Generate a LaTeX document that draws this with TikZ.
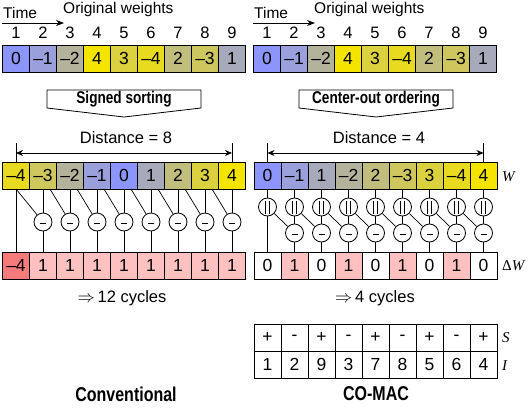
\documentclass[tikz,border=0pt]{standalone}
\usepackage{fontspec}
\setmainfont{Liberation Sans}
\newfontfamily\condfont[FakeStretch=0.8]{Liberation Sans}
\newfontfamily\seriffont{Liberation Serif}
\usetikzlibrary{arrows.meta}
\definecolor{cb}{RGB}{140,150,250}
\definecolor{cy}{RGB}{245,228,0}
\colorlet{v0}{cb}
\colorlet{vm1}{cy!12.5!cb}
\colorlet{v1}{cy!25!cb}
\colorlet{vm2}{cy!37.5!cb}
\colorlet{v2}{cy!50!cb}
\colorlet{vm3}{cy!62.5!cb}
\colorlet{v3}{cy!75!cb}
\colorlet{vm4}{cy!87.5!cb}
\colorlet{v4}{cy}
\definecolor{pk}{RGB}{255,192,192}
\definecolor{rd}{RGB}{245,122,122}
\colorlet{wh}{white}
\newcommand\numfont{\fontsize{16.5}{19}\selectfont}
\newcommand\boxfont{\fontsize{17.5}{20}\selectfont}
\newcommand\lblfont{\fontsize{15.5}{18}\selectfont}
\newcommand\bigbold{\condfont\bfseries\fontsize{20}{24}\selectfont}
\newcommand\banfont{\condfont\bfseries\fontsize{17}{20}\selectfont}
\newcommand\mathlbl{\seriffont\fontsize{15}{18}\selectfont}
\tikzset{
  cell/.style={draw, line width=0.9pt, minimum width=27pt, minimum height=27pt,
    inner sep=0pt, outer sep=0pt, font=\boxfont},
  conn/.style={line width=0.7pt},
  minusc/.style={circle, draw, line width=0.8pt, minimum size=18pt, inner sep=0pt, fill=white,
    path picture={\draw[line width=1.3pt] ([xshift=-3pt,yshift=-1.5pt]path picture bounding box.center) -- ([xshift=3pt,yshift=-1.5pt]path picture bounding box.center);}},
  eqc/.style={circle, draw, line width=0.8pt, minimum size=18pt, inner sep=0pt, fill=white,
    path picture={\draw[line width=0.8pt]
      ([xshift=-2.3pt,yshift=6pt]path picture bounding box.center) -- ([xshift=-2.3pt,yshift=-6.5pt]path picture bounding box.center)
      ([xshift=2.3pt,yshift=6pt]path picture bounding box.center) -- ([xshift=2.3pt,yshift=-6.5pt]path picture bounding box.center);}},
  banner/.style={draw, line width=0.8pt, fill=white},
  darr/.style={line width=0.8pt, {Stealth[length=7pt,width=6pt]}-{Stealth[length=7pt,width=6pt]}},
}
\begin{document}
\begin{tikzpicture}[x=1pt,y=-1pt]
\useasboundingbox (0,0) rectangle (530,410);
% ---------- headers ----------
\foreach \ox/\p in {0/l,251/r}{
  \node[anchor=base west, inner sep=0pt, font=\lblfont] (\p time) at (3+\ox,18) {Time};
  \node[anchor=base west, inner sep=0pt, font=\lblfont] (\p orig) at (63+\ox,13) {Original weights};
  \coordinate (\p ta) at (2+\ox,23);
  \coordinate (\p tb) at (64+\ox,23);
  \draw[line width=0.8pt, -{Stealth[length=8pt,width=6pt]}] (\p ta) -- (\p tb);
  \foreach \t/\c [count=\i from 0] in {0/v0,–1/vm1,–2/vm2,4/v4,3/v3,–4/vm4,2/v2,–3/vm3,1/v1}{
    \node[anchor=base, inner sep=0pt, font=\numfont] (\p n\i) at (16+27*\i+\ox,38.5) {\the\numexpr\i+1\relax};
    \node[cell, fill=\c] (\p o\i) at (16+27*\i+\ox,58.5) {\t};
  }
}
% ---------- banners ----------
\draw[banner] (47,90) -- (201,90) -- (201,108) -- (124,117) -- (47,108) -- cycle;
\node[font=\banfont, inner sep=0pt] (lban) at (124,99.5) {Signed sorting};
\draw[banner] (299,90) -- (453,90) -- (453,108) -- (376,117) -- (299,108) -- cycle;
\node[font=\banfont, inner sep=0pt] (rban) at (376,99.5) {Center-out ordering};
% ---------- left: sorted ----------
\foreach \t/\c [count=\i from 0] in {–4/vm4,–3/vm3,–2/vm2,–1/vm1,0/v0,1/v1,2/v2,3/v3,4/v4}{
  \node[cell, fill=\c] (lw\i) at (16+27*\i,175.5) {\t};
}
\foreach \t/\c [count=\i from 0] in {–4/rd,1/pk,1/pk,1/pk,1/pk,1/pk,1/pk,1/pk,1/pk}{
  \node[cell, fill=\c] (ld\i) at (16+27*\i,265.5) {\t};
}
\foreach \i in {1,...,8}{
  \node[minusc] (lm\i) at (16+27*\i,222) {};
}
\draw[conn] (lw0.south) -- (ld0.north);
\foreach \i in {1,...,8}{
  \draw[conn] (lw\i.south) -- (lm\i.north);
  \draw[conn] (lm\i.south) -- (ld\i.north);
}
\draw[conn] (lw0.south) -- (lm1);
\foreach \i [evaluate=\i as \j using int(\i-1)] in {2,...,8}{
  \draw[conn] ([xshift=7pt]lw\j.south) -- (lm\i);
}
% distance left
\node[font=\numfont, inner sep=0pt] (ldist) at (126,138) {Distance = 8};
\coordinate (lt0) at (16,143);
\coordinate (lt8) at (232,143);
\draw[conn] (lt0) -- (lw0.north);
\draw[conn] (lt8) -- (lw8.north);
\coordinate (la0) at (16,153);
\coordinate (la8) at (232,153);
\draw[darr] (la0) -- (la8);
\node[font=\numfont, inner sep=0pt] (lcyc) at (122,298) {$\Rightarrow$\,12 cycles};
\node[font=\bigbold, inner sep=0pt] (lname) at (126,394) {Conventional};
% ---------- right: center-out ----------
\foreach \t/\c [count=\i from 0] in {0/v0,–1/vm1,1/v1,–2/vm2,2/v2,–3/vm3,3/v3,–4/vm4,4/v4}{
  \node[cell, fill=\c] (rw\i) at (267.5+27*\i,175.5) {\t};
}
\foreach \t/\c [count=\i from 0] in {0/wh,1/pk,0/wh,1/pk,0/wh,1/pk,0/wh,1/pk,0/wh}{
  \node[cell, fill=\c] (rd\i) at (267.5+27*\i,265.5) {\t};
}
\foreach \i in {0,...,8}{
  \node[eqc] (re\i) at (267.5+27*\i,207) {};
  \draw[conn] (rw\i.south) -- (re\i.north);
}
\foreach \i in {1,...,8}{
  \node[minusc] (rm\i) at (267.5+27*\i,233) {};
}
\draw[conn] (re0.south) -- (rd0.north);
\foreach \i [evaluate=\i as \j using int(\i-1)] in {1,...,8}{
  \draw[conn] (re\i.south) -- (rm\i.north);
  \draw[conn] (rm\i.south) -- (rd\i.north);
  \draw[conn] (re\j) -- (rm\i);
}
\node[font=\numfont, inner sep=0pt] (rdist) at (379,138) {Distance = 4};
\coordinate (rt0) at (267.5,143);
\coordinate (rt8) at (483.5,143);
\draw[conn] (rt0) -- (rw0.north);
\draw[conn] (rt8) -- (rw8.north);
\coordinate (ra0) at (267.5,153);
\coordinate (ra8) at (483.5,153);
\draw[darr] (ra0) -- (ra8);
\node[anchor=west, inner sep=0pt, font=\mathlbl] (wlbl) at (502,177) {\itshape W};
\node[anchor=west, inner sep=0pt, font=\mathlbl] (dwlbl) at (502,266) {Δ\itshape W};
\node[font=\numfont, inner sep=0pt] (rcyc) at (375,298) {$\Rightarrow$\,4 cycles};
% table
\foreach \s/\n [count=\i from 0] in {+/1,-/2,+/9,-/3,+/7,-/8,+/5,-/6,+/4}{
  \node[cell] (ts\i) at (267.5+27*\i,337.5) {\s};
  \node[cell] (ti\i) at (267.5+27*\i,364.5) {\n};
}
\node[anchor=west, inner sep=0pt, font=\mathlbl] (slbl) at (502,338) {\itshape S};
\node[anchor=west, inner sep=0pt, font=\mathlbl] (ilbl) at (502,366) {\itshape I};
\node[font=\bigbold, inner sep=0pt] (rname) at (376,394) {CO-MAC};
\end{tikzpicture}
\end{document}
